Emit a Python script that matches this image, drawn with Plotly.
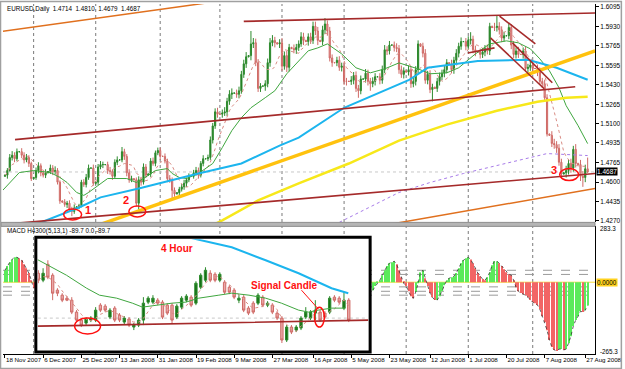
import pandas as pd
import plotly.graph_objects as go

# ---------------- DATA ----------------
# one bar per day, Sunday..Friday (broker feed with Sunday bars)
bar_dates = pd.date_range("2007-11-18", "2008-08-28", freq="D")
bar_dates = bar_dates[bar_dates.dayofweek != 5]

date_labels = ["18 Nov 2007", "6 Dec 2007", "25 Dec 2007", "13 Jan 2008", "31 Jan 2008",
               "19 Feb 2008", "9 Mar 2008", "27 Mar 2008", "16 Apr 2008", "5 May 2008",
               "23 May 2008", "12 Jun 2008", "1 Jul 2008", "20 Jul 2008", "7 Aug 2008",
               "27 Aug 2008"]
price_ticks = [1.6095, 1.5930, 1.5765, 1.5595, 1.5430, 1.5265, 1.5100, 1.4935,
               1.4765, 1.4600, 1.4435, 1.4270]
last_price = 1.4687

first_open = 1.4650
closes = [
    1.4660, 1.4700, 1.4810, 1.4830, 1.4800, 1.4860,
    1.4860, 1.4830, 1.4790, 1.4810, 1.4760, 1.4630,
    1.4640, 1.4700, 1.4740, 1.4680, 1.4660, 1.4680,
    1.4690, 1.4720, 1.4690, 1.4700, 1.4600, 1.4440,
    1.4430, 1.4410, 1.4420, 1.4370, 1.4350, 1.4380,
    1.4390, 1.4400, 1.4600, 1.4580, 1.4640, 1.4720,
    1.4720, 1.4590, 1.4600, 1.4730, 1.4750, 1.4750,
    1.4750, 1.4700, 1.4690, 1.4650, 1.4770, 1.4790,
    1.4790, 1.4860, 1.4820, 1.4680, 1.4620, 1.4630,
    1.4620, 1.4420, 1.4620, 1.4600, 1.4730, 1.4660,
    1.4670, 1.4780, 1.4760, 1.4850, 1.4870, 1.4820,
    1.4820, 1.4780, 1.4630, 1.4620, 1.4530, 1.4500,
    1.4510, 1.4540, 1.4560, 1.4590, 1.4620, 1.4650,
    1.4650, 1.4680, 1.4700, 1.4660, 1.4760, 1.4800,
    1.4800, 1.4810, 1.4960, 1.5080, 1.5200, 1.5180,
    1.5180, 1.5190, 1.5200, 1.5290, 1.5350, 1.5360,
    1.5360, 1.5350, 1.5380, 1.5520, 1.5610, 1.5670,
    1.5680, 1.5780, 1.5790, 1.5620, 1.5400, 1.5420,
    1.5420, 1.5440, 1.5620, 1.5790, 1.5810, 1.5790,
    1.5780, 1.5790, 1.5590, 1.5680, 1.5580, 1.5750,
    1.5740, 1.5730, 1.5750, 1.5780, 1.5840, 1.5810,
    1.5800, 1.5840, 1.5810, 1.5930, 1.5890, 1.5810,
    1.5800, 1.5900, 1.5950, 1.5890, 1.5660, 1.5620,
    1.5620, 1.5640, 1.5580, 1.5590, 1.5460, 1.5460,
    1.5460, 1.5470, 1.5510, 1.5400, 1.5380, 1.5480,
    1.5480, 1.5530, 1.5460, 1.5440, 1.5460, 1.5500,
    1.5500, 1.5470, 1.5560, 1.5730, 1.5720, 1.5770,
    1.5770, 1.5750, 1.5740, 1.5560, 1.5520, 1.5550,
    1.5540, 1.5560, 1.5440, 1.5460, 1.5560, 1.5780,
    1.5760, 1.5700, 1.5470, 1.5520, 1.5390, 1.5410,
    1.5400, 1.5460, 1.5500, 1.5530, 1.5560, 1.5620,
    1.5610, 1.5560, 1.5640, 1.5700, 1.5760, 1.5800,
    1.5800, 1.5760, 1.5810, 1.5820, 1.5730, 1.5710,
    1.5710, 1.5690, 1.5710, 1.5740, 1.5720, 1.5930,
    1.5920, 1.5920, 1.5930, 1.5900, 1.5830, 1.5850,
    1.5850, 1.5920, 1.5770, 1.5690, 1.5720, 1.5690,
    1.5690, 1.5720, 1.5570, 1.5580, 1.5600, 1.5570,
    1.5570, 1.5540, 1.5460, 1.5440, 1.5320, 1.5010,
    1.5000, 1.4930, 1.4920, 1.4890, 1.4770, 1.4670,
    1.4680, 1.4700, 1.4760, 1.4720, 1.4880, 1.4760,
    1.4750, 1.4650, 1.4640, 1.4714, 1.4687,
]
# wick lengths beyond the body, in pips
hi_pips = [
    5, 20, 30, 35, 25, 27,   5, 30, 25, 30, 20, 15,   5, 25, 30, 20, 25, 30,
    5, 30, 25, 35, 20, 15,   5, 25, 20, 25, 20, 30,   5, 15, 20, 25, 30, 30,
    5, 30, 10, 25, 30, 25,   5, 25, 30, 20, 25, 30,   5, 40, 25, 20, 30, 25,
    5, 20, 30, 25, 30, 25,   5, 25, 30, 20, 25, 25,   5, 25, 20, 30, 20, 25,
    5, 20, 25, 30, 20, 25,   5, 25, 30, 25, 20, 30,   5, 25, 30, 25, 30, 35,
    5, 30, 40, 30, 35, 40,   5, 30, 35, 30, 35, 40,   5, 110, 40, 35, 30, 25,
    5, 30, 35, 40, 45, 30,   5, 30, 40, 35, 40, 30,   5, 35, 30, 30, 40, 35,
    5, 30, 35, 40, 40, 35,   5, 35, 50, 30, 35, 30,   5, 30, 35, 30, 35, 30,
    5, 35, 30, 35, 30, 30,   5, 35, 30, 30, 35, 30,   5, 30, 35, 40, 30, 35,
    5, 30, 35, 30, 35, 30,   5, 35, 30, 35, 30, 30,   5, 30, 35, 30, 35, 30,
    5, 30, 35, 30, 35, 30,   5, 35, 30, 35, 30, 35,   5, 30, 35, 60, 30, 35,
    5, 30, 35, 30, 35, 30,   5, 40, 88, 35, 30, 35,   5, 35, 30, 35, 30, 35,
    5, 30, 35, 30, 35, 30,   5, 30, 35, 30, 35, 30,   5, 35, 40, 30, 35, 30,
    5, 40, 35, 40, 30, 45,   5, 40, 45, 35, 96,
]
lo_pips = [
    5, 30, 10, 25, 30, 20,   5, 25, 30, 20, 30, 20,   5, 20, 25, 30, 20, 25,
    5, 20, 30, 25, 20, 25,   5, 20, 30, 25, 40, 20,   5, 20, 15, 20, 25, 20,
    5, 20, 10, 25, 20, 30,   5, 30, 25, 30, 20, 25,   5, 20, 30, 30, 25, 20,
    5, 25, 54, 30, 20, 25,   5, 25, 20, 25, 20, 30,   5, 20, 30, 25, 80, 25,
    5, 25, 20, 25, 30, 20,   5, 20, 25, 30, 20, 25,   5, 20, 20, 30, 25, 30,
    5, 30, 25, 35, 30, 40,   5, 30, 35, 25, 30, 35,   5, 40, 35, 30, 30, 30,
    5, 40, 30, 35, 30, 40,   5, 35, 40, 30, 40, 35,   5, 30, 35, 30, 25, 40,
    5, 35, 30, 30, 35, 40,   5, 30, 35, 40, 30, 35,   5, 30, 30, 35, 30, 35,
    5, 30, 35, 30, 60, 30,   5, 30, 35, 60, 30, 35,   5, 35, 30, 30, 35, 30,
    5, 35, 30, 35, 30, 35,   5, 30, 35, 30, 35, 30,   5, 35, 30, 35, 30, 100,
    5, 30, 35, 30, 35, 30,   5, 30, 35, 30, 35, 30,   5, 35, 30, 35, 30, 35,
    5, 35, 30, 35, 30, 35,   5, 30, 35, 40, 35, 30,   5, 30, 35, 30, 35, 30,
    5, 35, 30, 35, 30, 35,   5, 35, 30, 35, 30, 20,   5, 30, 35, 40, 30, 40,
    5, 40, 35, 40, 30, 35,   5, 40, 80, 40, 8,
]

# indicator lines (bar index, price)
green_ma_bars = [-1, 6, 12, 19, 23, 26, 30, 33, 35, 40, 43, 51, 55, 58, 63, 68, 70, 73, 76, 81,
                 87, 91, 95, 99, 103, 109, 113, 118, 123, 127, 131, 135, 141, 147, 153, 159,
                 165, 173, 178, 185, 190, 197, 203, 210, 215, 220, 224, 228, 232, 235, 240, 244]
green_ma_vals = [1.4529, 1.4682, 1.4699, 1.4682, 1.4640, 1.4597, 1.4512, 1.4487, 1.4512, 1.4590,
                 1.4631, 1.4631, 1.4597, 1.4631, 1.4699, 1.4716, 1.4674, 1.4640, 1.4631, 1.4674,
                 1.4759, 1.4895, 1.5040, 1.5150, 1.5235, 1.5321, 1.5380, 1.5525, 1.5635, 1.5721,
                 1.5746, 1.5780, 1.5695, 1.5576, 1.5533, 1.5567, 1.5618, 1.5567, 1.5525, 1.5533,
                 1.5576, 1.5695, 1.5780, 1.5806, 1.5789, 1.5738, 1.5652, 1.5550, 1.5406, 1.5253,
                 1.5082, 1.4929]
blue_ma_bars = [13, 31, 40, 56, 81, 99, 115, 123, 142, 169, 177, 198, 219, 231, 244]
blue_ma_vals = [1.4240, 1.4384, 1.4470, 1.4546, 1.4674, 1.4759, 1.4912, 1.4980, 1.5235, 1.5470,
                1.5576, 1.5635, 1.5644, 1.5576, 1.5474]
yellow_ma_bars = [81, 91, 106, 123, 144, 165, 185, 206, 223, 235, 244]
yellow_ma_vals = [1.4172, 1.4274, 1.4444, 1.4589, 1.4759, 1.4955, 1.5091, 1.5210, 1.5286, 1.5321, 1.5329]
purple_ma_bars = [140, 165, 178, 192, 206, 220, 227, 244]
purple_ma_vals = [1.4257, 1.4512, 1.4597, 1.4674, 1.4742, 1.4810, 1.4844, 1.4827]

# drawn trend lines (bar index pairs, price pairs)
gold_trend = ([40, 247.1], [1.4240, 1.5721])
chan_upper = ([4.2, 238.8], [1.4963, 1.5414])
chan_top = ([100, 247.1], [1.5972, 1.6044])
chan_lower = ([4.2, 247.1], [1.4248, 1.4674])
down_1 = ([207.1, 222.1], [1.6018, 1.5780])
down_2 = ([203.3, 225.8], [1.5831, 1.5397])
down_3 = ([212.5, 229.2], [1.5789, 1.5448])
short_up = ([193.8, 205.0], [1.5703, 1.5746])
orange_top = ([-1, 85], [1.5888, 1.6131])
orange_bottom = ([156.3, 247.1], [1.4223, 1.4546])

# MACD(5,13,1) histogram, visible parts only
macd_left_start = 0
macd_left = [46, 62, 77, 88, 96, 96, 92, 85, 69, 54, 35, 8, -23]
macd_right_start = 154
macd_right = [-31, -15, -4, 8, 27, 46, 62, 73, 77, 81, 69, 46, 19, -4, -15, -35, -54, -62, -38, -4,
              38, 46, 15, -15, -42, -58, -69, -69, -54, -35, -12, 8, 15, 19, 23, 35, 54, 73, 85, 92,
              96, 88, 73, 54, 35, 23, 12, 8, 19, 38, 65, 81, 81, 73, 62, 50, 38, 31, 27, 8,
              -19, -35, -42, -46, -50, -58, -69, -77, -81, -88, -104, -131, -154, -185, -223, -250,
              -261, -265.3, -258, -258, -261, -258, -235, -208, -169, -146, -131, -112, -115, -108, -89.7]
macd_levels = [46, 30, -18, -35, -50]

# 4-hour inset chart (pasted picture)
inset_open = [1.4811, 1.4790, 1.4838, 1.4805, 1.4760, 1.4745, 1.4736, 1.4730, 1.4694, 1.4670,
              1.4661, 1.4670, 1.4670, 1.4715, 1.4712, 1.4679, 1.4706, 1.4685, 1.4664, 1.4673,
              1.4649, 1.4655, 1.4670, 1.4724, 1.4724, 1.4730, 1.4724, 1.4715, 1.4715, 1.4679,
              1.4709, 1.4730, 1.4739, 1.4721, 1.4769, 1.4790, 1.4811, 1.4808, 1.4790, 1.4784,
              1.4769, 1.4760, 1.4730, 1.4739, 1.4706, 1.4721, 1.4721, 1.4739, 1.4715, 1.4715,
              1.4691, 1.4676, 1.4610, 1.4649, 1.4640, 1.4646, 1.4679, 1.4676, 1.4691, 1.4694,
              1.4691, 1.4694, 1.4739, 1.4736, 1.4706, 1.4730]
inset_high = [1.4820, 1.4826, 1.4850, 1.4811, 1.4766, 1.4751, 1.4742, 1.4739, 1.4700, 1.4676,
              1.4679, 1.4682, 1.4709, 1.4721, 1.4718, 1.4706, 1.4712, 1.4691, 1.4682, 1.4679,
              1.4661, 1.4676, 1.4739, 1.4742, 1.4745, 1.4736, 1.4730, 1.4721, 1.4721, 1.4718,
              1.4742, 1.4748, 1.4745, 1.4787, 1.4811, 1.4829, 1.4820, 1.4814, 1.4814, 1.4790,
              1.4775, 1.4766, 1.4745, 1.4745, 1.4712, 1.4727, 1.4751, 1.4745, 1.4727, 1.4721,
              1.4697, 1.4682, 1.4655, 1.4655, 1.4655, 1.4682, 1.4709, 1.4700, 1.4730, 1.4700,
              1.4697, 1.4742, 1.4745, 1.4742, 1.4754, 1.4736]
inset_low = [1.4781, 1.4784, 1.4793, 1.4730, 1.4742, 1.4724, 1.4727, 1.4688, 1.4664, 1.4649,
             1.4655, 1.4664, 1.4664, 1.4694, 1.4694, 1.4673, 1.4664, 1.4664, 1.4658, 1.4649,
             1.4640, 1.4649, 1.4655, 1.4718, 1.4718, 1.4715, 1.4673, 1.4685, 1.4661, 1.4673,
             1.4703, 1.4724, 1.4709, 1.4715, 1.4763, 1.4784, 1.4784, 1.4784, 1.4784, 1.4748,
             1.4748, 1.4733, 1.4721, 1.4694, 1.4685, 1.4688, 1.4715, 1.4709, 1.4709, 1.4688,
             1.4670, 1.4601, 1.4604, 1.4628, 1.4634, 1.4640, 1.4673, 1.4670, 1.4670, 1.4664,
             1.4673, 1.4688, 1.4724, 1.4718, 1.4700, 1.4664]
inset_close = [1.4790, 1.4811, 1.4799, 1.4751, 1.4751, 1.4730, 1.4730, 1.4694, 1.4670, 1.4655,
               1.4673, 1.4676, 1.4700, 1.4700, 1.4700, 1.4700, 1.4670, 1.4670, 1.4676, 1.4655,
               1.4655, 1.4670, 1.4721, 1.4736, 1.4736, 1.4721, 1.4679, 1.4691, 1.4670, 1.4712,
               1.4736, 1.4742, 1.4715, 1.4781, 1.4805, 1.4820, 1.4790, 1.4790, 1.4808, 1.4754,
               1.4754, 1.4739, 1.4736, 1.4700, 1.4691, 1.4694, 1.4745, 1.4715, 1.4721, 1.4694,
               1.4676, 1.4610, 1.4649, 1.4634, 1.4649, 1.4676, 1.4694, 1.4694, 1.4700, 1.4670,
               1.4679, 1.4736, 1.4730, 1.4724, 1.4730, 1.4670]
inset_green_idx = [-0.3, 5.9, 10.1, 12.8, 16.4, 19.7, 21.8, 24.7, 28.0, 30.9, 33.6, 37.8, 40.5,
                   44.1, 47.6, 50.9, 54.5, 56.6, 58.6, 61.4, 64.3]
inset_green_val = [1.4853, 1.4805, 1.4766, 1.4745, 1.4736, 1.4721, 1.4709, 1.4715, 1.4721, 1.4724,
                   1.4736, 1.4745, 1.4751, 1.4745, 1.4736, 1.4721, 1.4700, 1.4694, 1.4700, 1.4706,
                   1.4706]
inset_blue_idx = [30.5, 35.7, 40.5, 47.6, 54.5, 61.4, 64.9]
inset_blue_val = [1.4922, 1.4904, 1.4889, 1.4850, 1.4811, 1.4766, 1.4751]
inset_support = ([-0.3, 13.5, 69.5], [1.4652, 1.4655, 1.4670])
inset_bid = 1.4676

# ---------------- LAYOUT HELPERS ----------------
W, H = 625, 369
ML, MR, MT, MB = 3, 27, 3, 15
PW, PH = W - ML - MR, H - MT - MB


def pxx(x):
    return (x - ML) / PW


def pxy(y):
    return (H - MB - y) / PH


n = len(closes)
xs = list(range(n))
opens = [first_open] + closes[:-1]
highs = [max(o, c) + h / 10000 for o, c, h in zip(opens, closes, hi_pips)]
lows = [min(o, c) - l / 10000 for o, c, l in zip(opens, closes, lo_pips)]

label_idx = [bar_dates.get_loc(pd.to_datetime(s, format="%d %b %Y")) for s in date_labels]
month_starts = [i for i in range(1, n) if bar_dates[i].month != bar_dates[i - 1].month]

XR = [-0.833, 247.08]
FONT = "Liberation Sans, Arial, sans-serif"

fig = go.Figure()

fig.add_trace(go.Candlestick(
    x=xs, open=opens, high=highs, low=lows, close=closes, whiskerwidth=0,
    increasing=dict(line=dict(color="#2E8B2E", width=1), fillcolor="#157015"),
    decreasing=dict(line=dict(color="#CF6A66", width=1), fillcolor="#EBA8A8"),
    xaxis="x", yaxis="y", showlegend=False, hoverinfo="skip"))


def line(xv, yv, color, width, dash="solid", xa="x", ya="y"):
    fig.add_trace(go.Scatter(x=xv, y=yv, mode="lines", line=dict(color=color, width=width, dash=dash),
                             xaxis=xa, yaxis=ya, showlegend=False, hoverinfo="skip"))


pink = pd.Series(closes).rolling(8, min_periods=1).mean().tolist()
line(xs, pink, "#D88C84", 1, "dot")
line(green_ma_bars, green_ma_vals, "#3FA63F", 1)
line(purple_ma_bars, purple_ma_vals, "#A77BE8", 1, "dot")
line(blue_ma_bars, blue_ma_vals, "#1CB5EE", 2)
line(yellow_ma_bars, yellow_ma_vals, "#F7E81A", 2.5)
line(*gold_trend, "#FFC20E", 3.5)
for tl in (chan_upper, chan_top, chan_lower, down_1, down_2, down_3, short_up):
    line(*tl, "#A52A2A", 1.6)
line(*orange_top, "#E0701E", 1.5)
line(*orange_bottom, "#E0701E", 1.5)

# MACD histogram
def macd_colors(vals):
    out = []
    for i, v in enumerate(vals):
        out.append("#5BEA5B" if i == 0 or v >= vals[i - 1] else "#F26565")
    return out


for start, vals in ((macd_left_start, macd_left), (macd_right_start, macd_right)):
    bx = list(range(start, start + len(vals)))
    fig.add_trace(go.Bar(x=bx, y=vals, width=0.45, marker=dict(color=macd_colors(vals), line=dict(width=0)),
                         xaxis="x2", yaxis="y2", showlegend=False, hoverinfo="skip"))
    line(bx, vals, "#333333", 0.8, "dot", "x2", "y2")

# inset 4H chart
ix = list(range(len(inset_close)))
fig.add_trace(go.Candlestick(
    x=ix, open=inset_open, high=inset_high, low=inset_low, close=inset_close, whiskerwidth=0,
    increasing=dict(line=dict(color="#2E8B2E", width=1), fillcolor="#157015"),
    decreasing=dict(line=dict(color="#CF6A66", width=1), fillcolor="#EBA8A8"),
    xaxis="x3", yaxis="y3", showlegend=False, hoverinfo="skip"))
line(ix, pd.Series(inset_close).rolling(4, min_periods=1).mean().tolist(), "#D88C84", 1, "dot", "x3", "y3")
line(inset_green_idx, inset_green_val, "#3FA63F", 1, "solid", "x3", "y3")
line(inset_blue_idx, inset_blue_val, "#1CB5EE", 2, "solid", "x3", "y3")
line(*inset_support, "#A52A2A", 1.6, "solid", "x3", "y3")

# ---------------- SHAPES ----------------
shapes = []
for m in month_starts:
    shapes.append(dict(type="line", xref="x", yref="paper", x0=m, x1=m, y0=0, y1=1,
                       line=dict(color="#7A7A7A", width=1, dash="dot"), layer="below"))
shapes.append(dict(type="line", xref="paper", yref="y", x0=0, x1=1, y0=last_price, y1=last_price,
                   line=dict(color="#C8C8C8", width=1, dash="dot"), layer="below"))
for lv in macd_levels:
    shapes.append(dict(type="line", xref="paper", yref="y2", x0=0, x1=1, y0=lv, y1=lv,
                       line=dict(color="#9A9A9A", width=1, dash="dash"), layer="below"))
shapes.append(dict(type="line", xref="paper", yref="y2", x0=0, x1=1, y0=0, y1=0,
                   line=dict(color="#F5DC3C", width=1), layer="below"))
# inset white picture
shapes.append(dict(type="rect", xref="paper", yref="paper", x0=pxx(36), x1=pxx(372), y0=pxy(352), y1=pxy(237),
                   fillcolor="white", line=dict(width=0), layer="below"))
for vx in (92, 243):
    shapes.append(dict(type="line", xref="paper", yref="paper", x0=pxx(vx), x1=pxx(vx), y0=pxy(350), y1=pxy(239),
                       line=dict(color="#7A7A7A", width=1, dash="dot"), layer="below"))
shapes.append(dict(type="line", xref="x3", yref="y3", x0=-0.1, x1=69, y0=inset_bid, y1=inset_bid,
                   line=dict(color="#C8C8C8", width=1, dash="dot"), layer="below"))
shapes.append(dict(type="rect", xref="paper", yref="paper", x0=pxx(36), x1=pxx(372), y0=pxy(352), y1=pxy(237),
                   line=dict(color="black", width=3), layer="above"))
# panel separator and outer frame
shapes.append(dict(type="rect", xref="paper", yref="paper", x0=pxx(1), x1=pxx(598), y0=pxy(226), y1=pxy(222),
                   fillcolor="#B5B5B5", line=dict(color="#8C8C8C", width=1), layer="above"))
shapes.append(dict(type="rect", xref="paper", yref="paper", x0=pxx(0.5), x1=pxx(624.5), y0=pxy(368.5), y1=pxy(0.5),
                   line=dict(color="#A0A0A0", width=1.5), layer="above"))


def ell(cx, cy, rx, ry):
    return dict(type="circle", xref="paper", yref="paper", x0=pxx(cx - rx), x1=pxx(cx + rx),
                y0=pxy(cy + ry), y1=pxy(cy - ry), line=dict(color="#FF1010", width=1.5), layer="above")


shapes += [ell(73, 214, 9, 5.5), ell(138, 211, 8.5, 5.5), ell(572, 174, 9.5, 6),
           ell(88, 326, 13, 8), ell(321, 317, 5, 10)]
shapes.append(dict(type="line", xref="paper", yref="paper", x0=pxx(303), y0=pxy(290), x1=pxx(320), y1=pxy(309),
                   line=dict(color="#FF1010", width=1), layer="above"))

# ---------------- ANNOTATIONS ----------------
ann = []


def txt(x, y, s, size=6.5, color="black", bold=False, xanchor="left", bg=None, yref="paper", yv=None):
    d = dict(xref="paper", yref=yref, x=pxx(x), y=pxy(y) if yv is None else yv, text=f"<b>{s}</b>" if bold else s,
             showarrow=False, xanchor=xanchor, yanchor="middle",
             font=dict(family=FONT, size=size, color=color))
    if bg:
        d.update(bgcolor=bg, borderpad=0)
    ann.append(d)


txt(5, 8, "EURUSD,Daily  " + "  ".join(["1.4714", "1.4810", "1.4679", f"{last_price:.4f}"]), 6.3)
txt(5, 231, "MACD H4300(5,13,1) -89.7 0.0 -89.7", 6.3)
txt(88, 210, "1", 11, "#FF1010", True, "center")
txt(127, 200, "2", 11, "#FF1010", True, "center")
txt(557, 169, "3", 11, "#FF1010", True, "center")
txt(178, 248, "4 Hour", 10, "#FF1010", True, "center")
txt(286, 285, "Signal Candle", 10, "#FF1010", True, "center")
txt(599, 0, f"{last_price:.4f}", 6.5, "white", False, "left", "black", "y", last_price)
txt(601, 228, "283.3", 6.3)
txt(601, 351, "-265.3", 6.3)
txt(599, 282, "0.0000", 6.3, "black", False, "left", "#FFD21E")

axis_common = dict(showgrid=False, zeroline=False, fixedrange=True)
fig.update_layout(
    width=W, height=H, margin=dict(l=ML, r=MR, t=MT, b=MB),
    paper_bgcolor="white", plot_bgcolor="white", showlegend=False, barmode="overlay",
    font=dict(family=FONT, size=6.5, color="black"),
    xaxis=dict(domain=[0, 1], range=XR, anchor="y", showticklabels=False, ticks="",
               rangeslider=dict(visible=False), **axis_common),
    yaxis=dict(domain=[pxy(222), 1], range=[1.42568, 1.61205], side="right", anchor="x",
               tickvals=price_ticks, ticktext=[f"{v:.4f}" for v in price_ticks],
               ticks="outside", ticklen=3, tickcolor="black", showline=True, linecolor="black",
               linewidth=1, tickfont=dict(size=6.5), **axis_common),
    xaxis2=dict(domain=[0, 1], range=XR, anchor="y2", tickvals=label_idx, ticktext=date_labels,
                ticks="outside", ticklen=3, tickcolor="black", ticklabelposition="outside right",
                tickangle=0, showline=True, linecolor="black", linewidth=1, tickfont=dict(size=6.2),
                **axis_common),
    yaxis2=dict(domain=[0, pxy(226)], range=[-276.8, 215.3], side="right", anchor="x2",
                showticklabels=False, ticks="", showline=True, linecolor="black", linewidth=1, **axis_common),
    xaxis3=dict(domain=[pxx(38), pxx(370)], range=[-0.104, 69.06], anchor="y3", visible=False,
                rangeslider=dict(visible=False), **axis_common),
    yaxis3=dict(domain=[pxy(350), pxy(239)], range=[1.4580, 1.4913], anchor="x3", visible=False, **axis_common),
    shapes=shapes, annotations=ann,
)

fig.write_html("out.html")
